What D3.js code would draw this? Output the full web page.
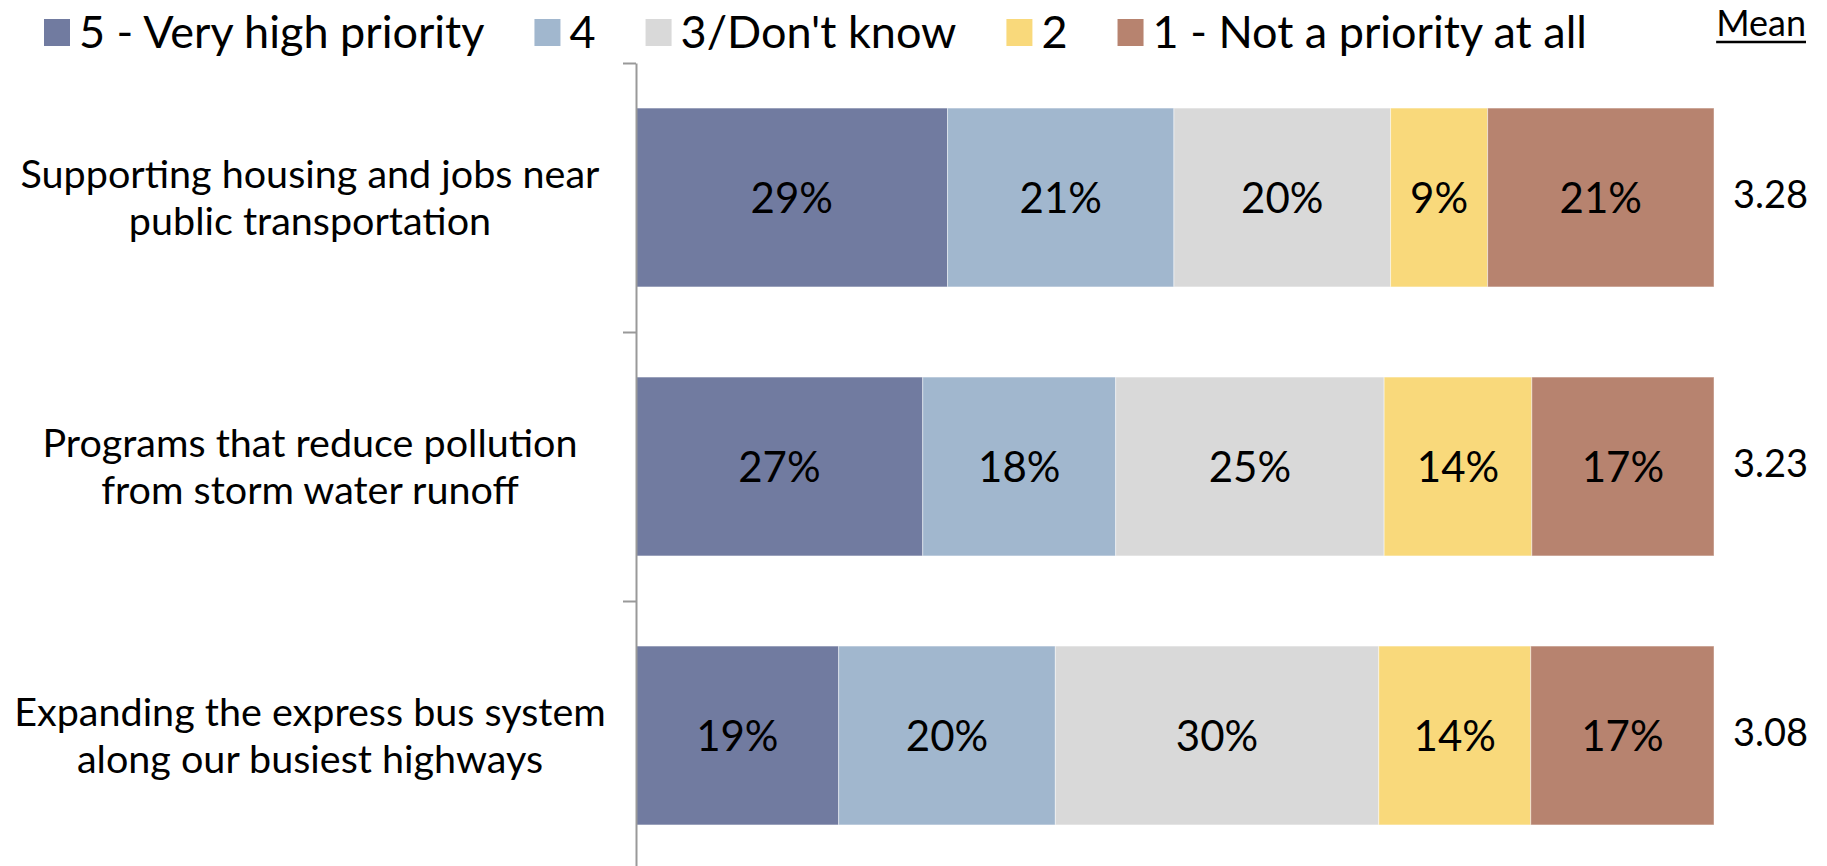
<!DOCTYPE html>
<html>
<head>
<meta charset="utf-8">
<script src="https://cdn.jsdelivr.net/npm/d3@7"></script>
<style>
  html, body { margin: 0; padding: 0; background: #fff; }
  svg { display: block; }
  text { font-family: Lato, "Open Sans", sans-serif; fill: #000; }
</style>
</head>
<body>
<svg id="chart" width="1827" height="866"></svg>
<script>
// ---- data ----
const categories = [
  ["Supporting housing and jobs near", "public transportation"],
  ["Programs that reduce pollution", "from storm water runoff"],
  ["Expanding the express bus system", "along our busiest highways"]
];
const seriesNames = ["5 - Very high priority", "4", "3/Don't know", "2", "1 - Not a priority at all"];
const seriesColors = ["#717BA0", "#A1B7CE", "#D9D9D9", "#F9D97B", "#B7836F"];
const s5 = [28.9, 26.6, 18.8];
const s4 = [21.0, 17.9, 20.1];
const s3 = [20.1, 24.9, 30.0];
const s2 = [9.0, 13.7, 14.1];
const s1 = [21.0, 16.9, 17.0];
const labels5 = ["29%", "27%", "19%"];
const labels4 = ["21%", "18%", "20%"];
const labels3 = ["20%", "25%", "30%"];
const labels2 = ["9%", "14%", "14%"];
const labels1 = ["21%", "17%", "17%"];
const means = ["3.28", "3.23", "3.08"];
const meanTitle = "Mean";

// ---- layout ----
const W = 1827, H = 866;
const plotLeft = 636, plotRight = 1714, plotTop = 63, plotBottom = 870;
const svg = d3.select("#chart");

const series = [s5, s4, s3, s2, s1];
const seriesLabels = [labels5, labels4, labels3, labels2, labels1];
const rows = categories.map((c, i) => {
  let acc = 0;
  return series.map((s, k) => {
    const d = { row: i, k, x0: acc, x1: acc + s[i], label: seriesLabels[k][i] };
    acc += s[i];
    return d;
  });
});

const x = d3.scaleLinear().domain([0, 100]).range([plotLeft, plotRight]);
const y = d3.scaleBand().domain(d3.range(categories.length)).range([plotTop, plotBottom]).padding(0);
const yTicks = d3.scaleLinear().domain([0, categories.length]).range([plotTop, plotBottom]);
const barH = y.bandwidth() * 0.665;
const barOff = (y.bandwidth() - barH) / 2;

// bars
const g = svg.append("g");
rows.forEach((row, i) => {
  g.selectAll(null).data(row).enter().append("rect")
    .attr("x", d => x(d.x0))
    .attr("y", y(i) + barOff)
    .attr("width", d => x(d.x1) - x(d.x0))
    .attr("height", barH)
    .attr("fill", d => seriesColors[d.k])
    .attr("stroke", "#ffffff")
    .attr("stroke-opacity", 0.45)
    .attr("stroke-width", 1);
  g.selectAll(null).data(row).enter().append("text")
    .attr("x", d => (x(d.x0) + x(d.x1)) / 2)
    .attr("y", y(i) + y.bandwidth() / 2)
    .attr("dy", "0.36em")
    .attr("text-anchor", "middle")
    .style("font-size", "42px")
    .text(d => d.label);
});

// axis
const axis = d3.axisLeft(yTicks).tickValues(d3.range(categories.length + 1)).tickFormat("").tickSize(13).tickSizeOuter(0);
const ax = svg.append("g").attr("transform", `translate(${plotLeft},0)`).call(axis);
ax.select(".domain").attr("stroke", "#999").attr("stroke-width", 2);
ax.selectAll(".tick line").attr("stroke", "#999").attr("stroke-width", 2);

// category labels
const catG = svg.append("g");
categories.forEach((lines, i) => {
  const cy = y(i) + y.bandwidth() / 2;
  const t = catG.append("text")
    .attr("text-anchor", "middle")
    .attr("x", plotLeft - 326)
    .attr("y", cy)
    .style("font-size", "39.5px");
  lines.forEach((ln, j) => {
    t.append("tspan")
      .attr("x", plotLeft - 326)
      .attr("y", cy + (j - (lines.length - 1) / 2) * 47)
      .attr("dy", "0.36em")
      .text(ln);
  });
});

// means
svg.selectAll(".mean").data(means).enter().append("text")
  .attr("class", "mean")
  .attr("x", plotRight + 19)
  .attr("y", (d, i) => y(i) + y.bandwidth() / 2 - 3)
  .attr("dy", "0.36em")
  .style("font-size", "38px")
  .text(d => d);

const mt = svg.append("text")
  .attr("x", 1806).attr("y", 36)
  .attr("text-anchor", "end")
  .style("font-size", "36px")
  .text(meanTitle);
const mb = mt.node().getBBox();
svg.append("line")
  .attr("x1", mb.x).attr("x2", mb.x + mb.width)
  .attr("y1", 42).attr("y2", 42)
  .attr("stroke", "#000").attr("stroke-width", 2.5);

// legend
const leg = svg.append("g");
let lx = 44;
seriesNames.forEach((name, k) => {
  leg.append("rect").attr("x", lx).attr("y", 19).attr("width", 26).attr("height", 27).attr("fill", seriesColors[k]);
  const t = leg.append("text").attr("x", lx + 35).attr("y", 48).style("font-size", "45px").text(name);
  lx += 35 + t.node().getComputedTextLength() + 50;
});
</script>
</body>
</html>
